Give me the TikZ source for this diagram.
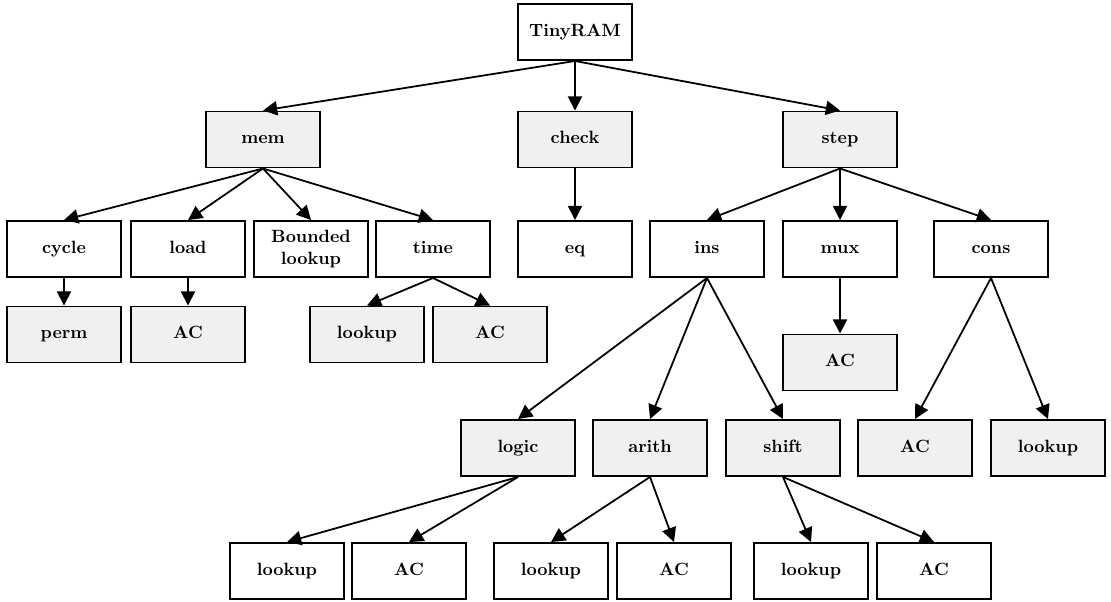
\documentclass[tikz,border=0pt]{standalone}
\usetikzlibrary{arrows.meta}

\definecolor{boxgrey}{HTML}{F0F0F0}

\tikzset{
  plainbox/.style={draw, line width=1.1pt, minimum width=64pt, minimum height=31.5pt,
    inner sep=2pt, align=center, font=\bfseries, text height=1.6ex, text depth=0.5ex},
  greybox/.style={plainbox, fill=boxgrey},
  link/.style={line width=1pt, -{Triangle[length=8pt,width=8pt]}}
}

\begin{document}
\begin{tikzpicture}[x=0.5625pt, y=-0.5625pt]

  \useasboundingbox (0,0) rectangle (1111,601);

  % Root
  \node[plainbox] (tinyram) at (575,32) {TinyRAM};

  % Level 1
  \node[greybox] (mem) at (263,139.5) {mem};
  \node[greybox] (check) at (575,139.5) {check};
  \node[greybox] (step) at (840,139.5) {step};

  % Level 2
  \node[plainbox] (cycle) at (64,249) {cycle};
  \node[plainbox] (load) at (188,249) {load};
  \node[plainbox, text height=, text depth=] (bounded) at (311,249) {Bounded\\lookup};
  \node[plainbox] (time) at (433,249) {time};
  \node[plainbox] (eq) at (575,249) {eq};
  \node[plainbox] (ins) at (707,249) {ins};
  \node[plainbox] (mux) at (840,249) {mux};
  \node[plainbox] (cons) at (991,249) {cons};

  % Level 3
  \node[greybox] (perm) at (64,334.5) {perm};
  \node[greybox] (loadac) at (188,334.5) {AC};
  \node[greybox] (timelookup) at (367,334.5) {lookup};
  \node[greybox] (timeac) at (490,334.5) {AC};
  \node[greybox] (muxac) at (840,362.5) {AC};

  % Level 4
  \node[greybox] (logic) at (518,448) {logic};
  \node[greybox] (arith) at (650,448) {arith};
  \node[greybox] (shift) at (783,448) {shift};
  \node[greybox] (consac) at (915,448) {AC};
  \node[greybox] (conslookup) at (1048,448) {lookup};

  % Level 5
  \node[plainbox] (logiclookup) at (287,571) {lookup};
  \node[plainbox] (logicac) at (409,571) {AC};
  \node[plainbox] (arithlookup) at (551,571) {lookup};
  \node[plainbox] (arithac) at (674,571) {AC};
  \node[plainbox] (shiftlookup) at (811,571) {lookup};
  \node[plainbox] (shiftac) at (934,571) {AC};

  % Connectors
  \foreach \a/\b in {tinyram/mem, tinyram/check, tinyram/step,
      mem/cycle, mem/load, mem/bounded, mem/time, check/eq,
      step/ins, step/mux, step/cons,
      cycle/perm, load/loadac, time/timelookup, time/timeac,
      ins/logic, ins/arith, ins/shift, mux/muxac,
      cons/consac, cons/conslookup,
      logic/logiclookup, logic/logicac, arith/arithlookup, arith/arithac,
      shift/shiftlookup, shift/shiftac}
    \draw[link] (\a.south) -- (\b.north);

\end{tikzpicture}
\end{document}
